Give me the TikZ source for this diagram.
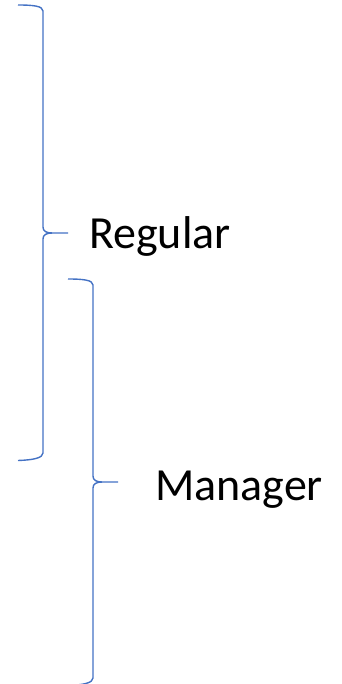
\documentclass[tikz,border=0pt]{standalone}
\usepackage{fontspec}
\setmainfont{Carlito}
\definecolor{braceblue}{RGB}{68,114,196}
\begin{document}
\begin{tikzpicture}[x=1pt,y=-1pt,
  bracestyle/.style={draw=braceblue,line width=1.4pt,line join=round},
  label/.style={inner sep=0pt,anchor=base west,font=\fontsize{46}{50}\selectfont}]
\useasboundingbox (0,0) rectangle (341,684);
\clip (0,0) rectangle (341,684);
% brace 1
\draw[bracestyle] (18,5) .. controls (33,5) and (43,6) .. (43,11) -- (43,227)
  .. controls (43,231) and (46,233) .. (52,233) -- (68,233);
\draw[bracestyle] (52,233) .. controls (46,233) and (43,235) .. (43,239) -- (43,453)
  .. controls (43,458) and (33,460) .. (18,460.5);
% brace 2
\draw[bracestyle] (68,279) .. controls (83,279) and (93,280) .. (93,285) -- (93,476)
  .. controls (93,480) and (96,482) .. (102,482) -- (118,482);
\draw[bracestyle] (102,482) .. controls (96,482) and (93,484) .. (93,488) -- (93,678)
  .. controls (93,683) and (83,685) .. (68,685.5);
\node[label] (regular) at (89,248) {Regular};
\node[label] (manager) at (155,500) {Manager};
\end{tikzpicture}
\end{document}
